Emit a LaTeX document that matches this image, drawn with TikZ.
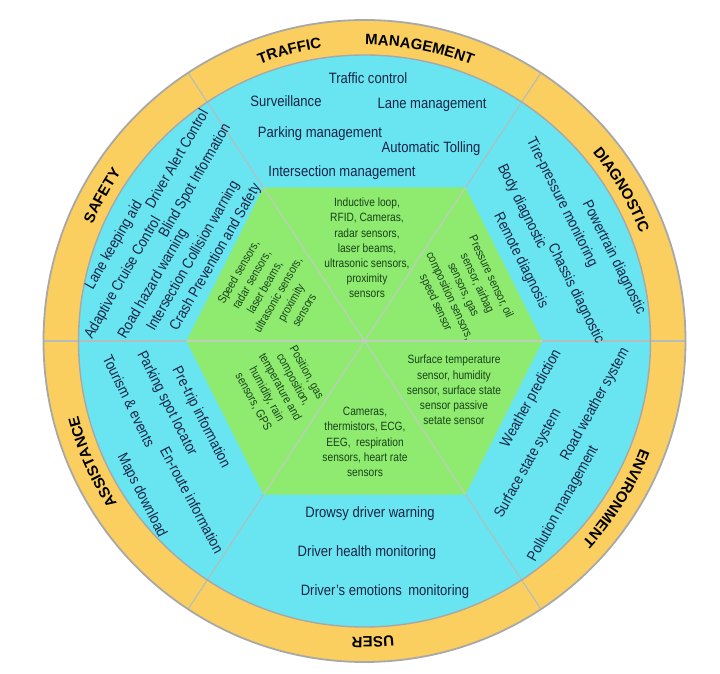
\documentclass[tikz,border=0pt]{standalone}
\usepackage{fontspec}
\setmainfont{Liberation Sans}
\newfontfamily\cyanfont{Liberation Sans}[FakeStretch=0.87]
\newfontfamily\hexfont{Liberation Sans}[FakeStretch=0.85]
\usetikzlibrary{decorations.text}
\definecolor{ringorange}{RGB}{250,207,95}
\definecolor{cyanfill}{RGB}{104,229,240}
\definecolor{hexgreen}{RGB}{142,235,112}
\definecolor{cyantextcol}{RGB}{25,35,70}
\definecolor{hextextcol}{RGB}{25,65,25}
\definecolor{edgegrey}{RGB}{168,168,168}
\definecolor{divgrey}{RGB}{180,188,190}
\definecolor{hexdivgrey}{RGB}{190,205,190}
\newcommand\ringlab{\fontsize{15}{18}\selectfont\bfseries}
\begin{document}
\begin{tikzpicture}[x=1pt,y=1pt,
  cyantext/.style={font=\cyanfont\fontsize{15}{18}\selectfont, text=cyantextcol, inner sep=0pt, text height=10.7pt, text depth=0pt},
  hextext/.style={font=\hexfont\fontsize{12}{15.2}\selectfont, text=hextextcol, align=center, inner sep=0pt},
  divider/.style={draw=divgrey, line width=1.1pt},
  hexdiv/.style={draw=hexdivgrey, line width=1.2pt},
  ringedge/.style={draw=edgegrey, line width=1.4pt},
  outeredge/.style={draw=edgegrey, line width=1.8pt},
  ringtext/.style={decorate, decoration={text along path, text align=center, text={|\ringlab|#1}}}]
\useasboundingbox (0,0) rectangle (720,673);
\begin{scope}[shift={(364.5,332)}]
\coordinate (c) at (0,0);
\coordinate (h1) at (178,0);
\coordinate (h2) at (101,153.5);
\coordinate (h3) at (-101,153.5);
\coordinate (h4) at (-178,0);
\coordinate (h5) at (-101,-153.5);
\coordinate (h6) at (101,-153.5);
\coordinate (o1) at (0:321pt);
\coordinate (o2) at (56.66:321pt);
\coordinate (o3) at (123.34:321pt);
\coordinate (o4) at (180:321pt);
\coordinate (o5) at (236.66:321pt);
\coordinate (o6) at (303.34:321pt);
\fill[ringorange] (c) circle[radius=321pt];
\fill[cyanfill] (c) circle[radius=286pt];
\foreach \i in {1,...,6} \draw[divider] (h\i) -- (o\i);
\draw[ringedge] (c) circle[radius=286pt];
\draw[outeredge] (c) circle[radius=321pt];
\fill[hexgreen] (h1)--(h2)--(h3)--(h4)--(h5)--(h6)--cycle;
\foreach \i in {1,...,6} \draw[hexdiv] (c) -- (h\i);

% ring labels
\path[ringtext=TRAFFIC] (134.5:296pt) arc[start angle=134.5, end angle=74.5, radius=296pt];
\path[ringtext=MANAGEMENT] (109.3:296pt) arc[start angle=109.3, end angle=49.3, radius=296pt];
\path[ringtext=SAFETY] (181:296pt) arc[start angle=181, end angle=121, radius=296pt];
\path[ringtext=DIAGNOSTIC] (60.5:296pt) arc[start angle=60.5, end angle=0.5, radius=296pt];
\path[ringtext=ENVIRONMENT] (-2:296pt) arc[start angle=-2, end angle=-62, radius=296pt];
\path[ringtext=USER] (-58.4:296pt) arc[start angle=-58.4, end angle=-118.4, radius=296pt];
\path[ringtext=ASSISTANCE] (234:296pt) arc[start angle=234, end angle=174, radius=296pt];

% traffic management
\node[cyantext] (tm1) at (3.5,263) {Traffic control};
\node[cyantext] (tm2) at (-78.5,240) {Surveillance};
\node[cyantext] (tm3) at (67.5,238) {Lane management};
\node[cyantext] (tm4) at (-44.5,209) {Parking management};
\node[cyantext] (tm5) at (66.5,194) {Automatic Tolling};
\node[cyantext] (tm6) at (-22.5,170) {Intersection management};

% safety
\node[cyantext, rotate=60] (sf1) at (-251.4,96.6) {Lane keeping aid};
\node[cyantext, rotate=60] (sf2) at (-242.6,63.8) {Adaptive Cruise Control};
\node[cyantext, rotate=60] (sf3) at (-188,182.4) {Driver Alert Control};
\node[cyantext, rotate=60] (sf4) at (-212.5,58) {Road hazard warning};
\node[cyantext, rotate=60] (sf5) at (-170.4,160.8) {Blind Spot Information};
\node[cyantext, rotate=60] (sf6) at (-172.3,85.6) {Intersection Collision warning};
\node[cyantext, rotate=60] (sf7) at (-150,84.3) {Crash Prevention and Safety};

% diagnostic
\node[cyantext, rotate=-63.5] (dg1) at (198.5,139) {Tire-pressure monitoring};
\node[cyantext, rotate=-63.5] (dg2) at (158.5,135) {Body diagnostic};
\node[cyantext, rotate=-63.5] (dg3) at (250.5,84) {Powertrain diagnostic};
\node[cyantext, rotate=-63.5] (dg4) at (157.5,81) {Remote diagnosis};
\node[cyantext, rotate=-63.5] (dg5) at (212.5,48) {Chassis diagnostic};

% environment
\node[cyantext, rotate=61] (ev1) at (165.5,-57) {Weather prediction};
\node[cyantext, rotate=61] (ev2) at (229.5,-63) {Road weather system};
\node[cyantext, rotate=61] (ev3) at (162.5,-122) {Surface state system};
\node[cyantext, rotate=61] (ev4) at (197.5,-162) {Pollution management};

% assistance
\node[cyantext, rotate=-64] (as1) at (-235.5,-60) {Tourism \& events};
\node[cyantext, rotate=-63] (as2) at (-196.5,-62) {Parking spot locator};
\node[cyantext, rotate=-63] (as3) at (-162.5,-76) {Pre-trip information};
\node[cyantext, rotate=-63] (as4) at (-221.5,-154) {Maps download};
\node[cyantext, rotate=-62] (as5) at (-172.5,-159) {En-route information};

% user
\node[cyantext] (us1) at (5.5,-171) {Drowsy driver warning};
\node[cyantext] (us2) at (2.5,-210) {Driver health monitoring};
\node[cyantext] (us3) at (20.5,-249) {Driver’s emotions\hspace{6.5pt}monitoring};

% hexagon
\node[hextext] (hx1) at (2.5,93) {Inductive loop,\\RFID, Cameras,\\radar sensors,\\laser beams,\\ultrasonic sensors,\\proximity\\sensors};
\node[hextext, rotate=60] (hx2) at (-93.5,50) {Speed sensors,\\radar sensors,\\laser beams,\\ultrasonic sensors,\\proximity\\sensors};
\node[hextext, rotate=-65] (hx3) at (98.5,51) {Pressure sensor, oil\\sensor, airbag\\sensors, gas\\composition sensors,\\speed sensor};
\node[hextext, rotate=-61] (hx4) at (-84.5,-46) {Position, gas\\composition,\\temperature and\\humidity, rain\\sensors, GPS};
\node[hextext] (hx5) at (0.5,-101) {Cameras,\\thermistors, ECG,\\EEG,\hspace{5.5pt}respiration\\sensors, heart rate\\sensors};
\node[hextext] (hx6) at (89.5,-49) {Surface temperature\\sensor, humidity\\sensor, surface state\\sensor passive\\setate sensor};
\end{scope}
\end{tikzpicture}
\end{document}
